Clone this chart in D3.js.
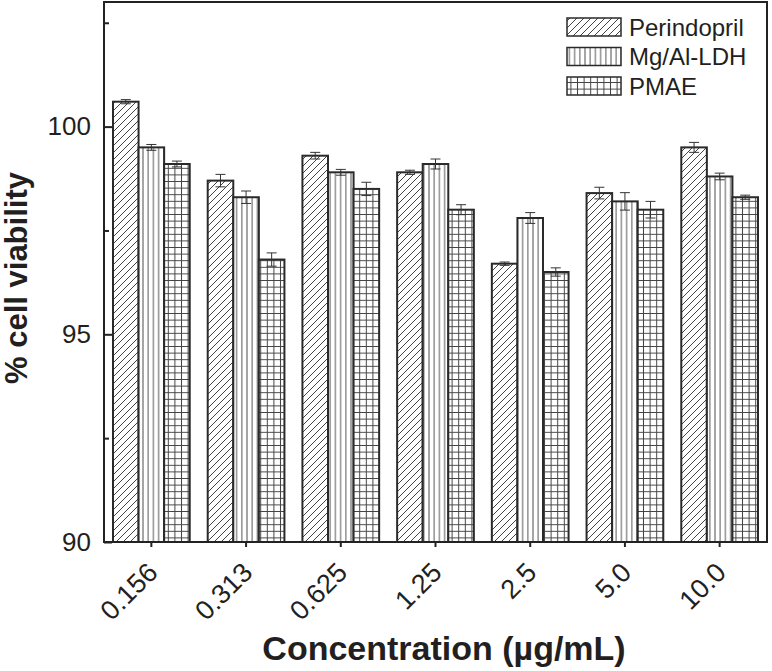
<!DOCTYPE html>
<html>
<head>
<meta charset="utf-8">
<script src="https://cdn.jsdelivr.net/npm/d3@7"></script>
<style>
html,body{margin:0;padding:0;background:#fff;}
svg{display:block;}
</style>
</head>
<body>
<svg id="chart" width="772" height="671"></svg>
<script>
const categories = ["0.156", "0.313", "0.625", "1.25", "2.5", "5.0", "10.0"];
const seriesNames = ["Perindopril", "Mg/Al-LDH", "PMAE"];
const perindopril = [100.6, 98.7, 99.3, 98.9, 96.7, 98.4, 99.5];
const mgAlLDH = [99.5, 98.3, 98.9, 99.1, 97.8, 98.2, 98.8];
const pmae = [99.1, 96.8, 98.5, 98.0, 96.5, 98.0, 98.3];
const perindoprilErr = [0.05, 0.15, 0.08, 0.05, 0.04, 0.14, 0.12];
const mgAlLDHErr = [0.07, 0.15, 0.07, 0.12, 0.13, 0.21, 0.08];
const pmaeErr = [0.07, 0.16, 0.16, 0.12, 0.10, 0.20, 0.05];
const yMajorTicks = [90, 95, 100];
const yMinorTicks = [92.5, 97.5, 102.5];

(function () {
const seriesValues = [perindopril, mgAlLDH, pmae];
const seriesErrs = [perindoprilErr, mgAlLDHErr, pmaeErr];
const patternIds = ["pat-diag", "pat-vert", "pat-grid"];

const svg = d3.select("#chart");
const font = "'Liberation Sans', Arial, Helvetica, sans-serif";
const ink = "#231f20";
const pL = 104, pR = 767, pT = 2, pB = 542;

// patterns
const defs = svg.append("defs");
const pd = defs.append("pattern").attr("id", "pat-diag").attr("patternUnits", "userSpaceOnUse")
  .attr("width", 7).attr("height", 7);
pd.append("rect").attr("width", 7).attr("height", 7).attr("fill", "#fff");
pd.append("path").attr("d", "M-1,8 L8,-1 M-1,1 L1,-1 M6,8 L8,6").attr("stroke", "#444").attr("stroke-width", 1);

const pv = defs.append("pattern").attr("id", "pat-vert").attr("patternUnits", "userSpaceOnUse")
  .attr("width", 5.2).attr("height", 10);
pv.append("rect").attr("width", 5.2).attr("height", 10).attr("fill", "#fff");
pv.append("line").attr("x1", 2.6).attr("x2", 2.6).attr("y1", 0).attr("y2", 10).attr("stroke", "#555").attr("stroke-width", 1);

const pg = defs.append("pattern").attr("id", "pat-grid").attr("patternUnits", "userSpaceOnUse")
  .attr("width", 6.6).attr("height", 6.6);
pg.append("rect").attr("width", 6.6).attr("height", 6.6).attr("fill", "#fff");
pg.append("path").attr("d", "M3.3,0 V6.6 M0,3.3 H6.6").attr("stroke", "#444").attr("stroke-width", 1);

const x = d3.scaleBand().domain(categories).range([pL, pR]).paddingInner(0.19).paddingOuter(0.095);
const xs = d3.scaleBand().domain(seriesNames).range([0, x.bandwidth()]).padding(0);
const y = d3.scaleLinear().domain([90, 103]).range([pB, pT]);

// bars
seriesNames.forEach((name, si) => {
  const g = svg.append("g");
  g.selectAll("rect").data(categories).join("rect")
    .attr("x", c => x(c) + xs(name))
    .attr("y", (c, i) => y(seriesValues[si][i]))
    .attr("width", xs.bandwidth())
    .attr("height", (c, i) => y(90) - y(seriesValues[si][i]))
    .attr("fill", `url(#${patternIds[si]})`)
    .attr("stroke", "#2a2a2a").attr("stroke-width", 2);
  const eg = svg.append("g").attr("stroke", "#333").attr("stroke-width", 1);
  categories.forEach((c, i) => {
    const cx = x(c) + xs(name) + xs.bandwidth() / 2;
    const v = seriesValues[si][i], e = seriesErrs[si][i];
    eg.append("line").attr("x1", cx).attr("x2", cx).attr("y1", y(v + e)).attr("y2", y(v - e));
    eg.append("line").attr("x1", cx - 5).attr("x2", cx + 5).attr("y1", y(v + e)).attr("y2", y(v + e));
    eg.append("line").attr("x1", cx - 5).attr("x2", cx + 5).attr("y1", y(v - e)).attr("y2", y(v - e));
  });
});

// frame
svg.append("rect").attr("x", pL).attr("y", pT).attr("width", pR - pL).attr("height", pB - pT)
  .attr("fill", "none").attr("stroke", "#222").attr("stroke-width", 2);

// y axis
const yAxis = svg.append("g").attr("transform", `translate(${pL},0)`)
  .call(d3.axisLeft(y).tickValues(yMajorTicks).tickSize(-8).tickPadding(13).tickFormat(d3.format("d")));
yAxis.select(".domain").remove();
yAxis.selectAll(".tick line").attr("stroke", "#222").attr("stroke-width", 2);
yAxis.selectAll("text").attr("font-family", font).attr("font-size", 26).attr("fill", ink);

const yMinor = svg.append("g").attr("transform", `translate(${pL},0)`)
  .call(d3.axisLeft(y).tickValues(yMinorTicks).tickSize(-5).tickFormat(""));
yMinor.select(".domain").remove();
yMinor.selectAll(".tick line").attr("stroke", "#222").attr("stroke-width", 2);

// x axis
const xAxis = svg.append("g").attr("transform", `translate(0,${pB})`)
  .call(d3.axisBottom(x).tickSize(5).tickFormat(""));
xAxis.select(".domain").remove();
xAxis.selectAll(".tick line").attr("stroke", "#222").attr("stroke-width", 2);
xAxis.selectAll(".tick").append("text")
  .attr("transform", "translate(8,32) rotate(-45)")
  .attr("text-anchor", "end")
  .attr("font-family", font).attr("font-size", 27).attr("fill", ink)
  .text(d => d);

// axis titles
svg.append("text").attr("transform", `translate(27,278) rotate(-90)`)
  .attr("text-anchor", "middle").attr("font-family", font).attr("font-weight", "bold")
  .attr("font-size", 31).attr("fill", ink).text("% cell viability");
svg.append("text").attr("x", 444).attr("y", 660)
  .attr("text-anchor", "middle").attr("font-family", font).attr("font-weight", "bold")
  .attr("font-size", 34).attr("fill", ink).text("Concentration (µg/mL)");

// legend
const legend = svg.append("g");
seriesNames.forEach((name, si) => {
  const ly = 18 + si * 29.5;
  legend.append("rect").attr("x", 567).attr("y", ly).attr("width", 54).attr("height", 18)
    .attr("fill", `url(#${patternIds[si]})`).attr("stroke", "#2a2a2a").attr("stroke-width", 1.5);
  legend.append("text").attr("x", 629).attr("y", ly + 9).attr("dy", "0.36em")
    .attr("font-family", font).attr("font-size", 24).attr("fill", ink).text(name);
});
})();
</script>
</body>
</html>
